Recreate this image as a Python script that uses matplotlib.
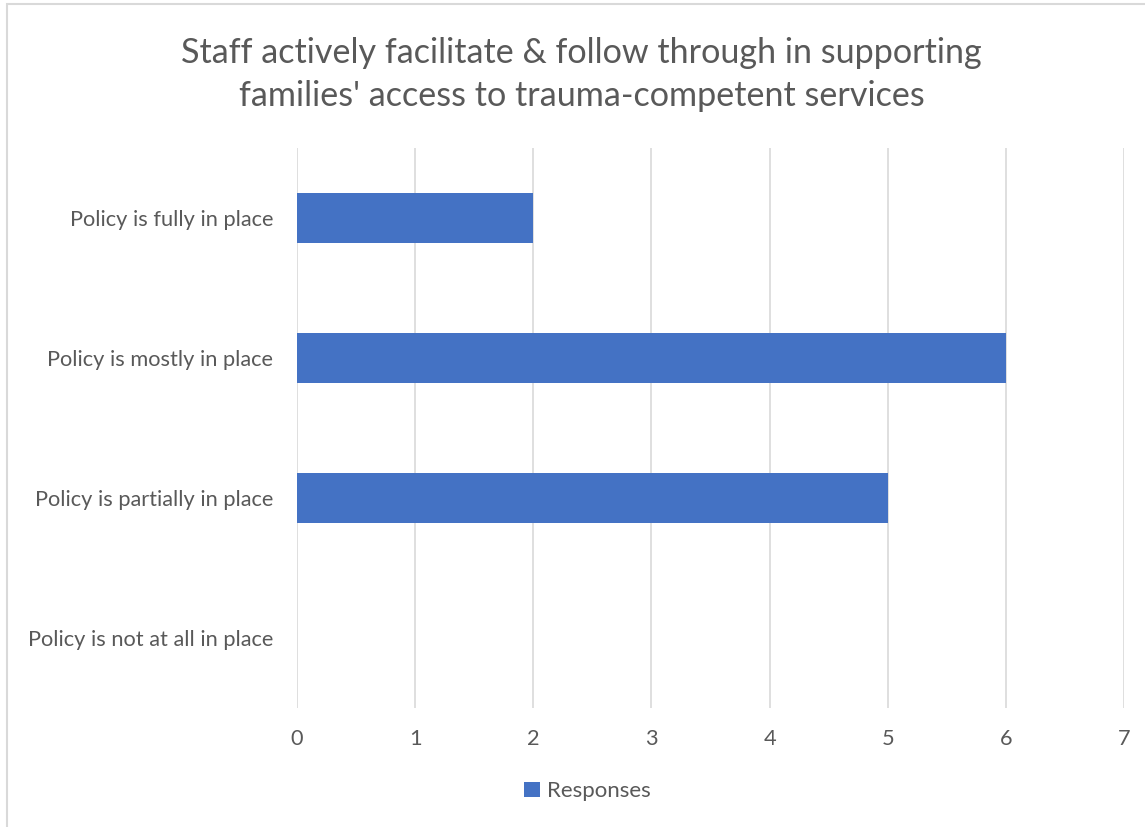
import matplotlib.pyplot as plt
from matplotlib.patches import Rectangle

# survey responses per policy level
categories = ["Policy is not at all in place",
              "Policy is partially in place",
              "Policy is mostly in place",
              "Policy is fully in place"]
responses = [0, 5, 6, 2]
x_ticks = [0, 1, 2, 3, 4, 5, 6, 7]

TITLE = "Staff actively facilitate & follow through in supporting\nfamilies' access to trauma-competent services"
BAR_COLOR = "#4472C4"
TEXT_COLOR = "#595959"
GRID_COLOR = "#D9D9D9"

plt.rcParams['font.family'] = ['Lato', 'DejaVu Sans']

fig = plt.figure(figsize=(11.45, 8.27), dpi=100)
# chart frame, only the top and left edges fall inside the image
top = (827 - 4) / 827
fig.patches.append(Rectangle((7 / 1145, -0.2), 1.2, top + 0.2, transform=fig.transFigure,
                             fill=False, edgecolor=GRID_COLOR, linewidth=1.5))

ax = fig.add_axes([0.2594, 0.1439, 0.7223, 0.677])
ax.barh(range(len(categories)), responses, height=0.36, color=BAR_COLOR, zorder=3,
        label="Responses")

ax.set_xlim(0, 7)
ax.set_ylim(-0.5, len(categories) - 0.5)
ax.set_xticks(x_ticks)
ax.set_yticks(range(len(categories)))
ax.set_yticklabels(categories)
ax.grid(axis='x', color=GRID_COLOR, linewidth=1.2, zorder=0)
for s in ax.spines.values():
    s.set_visible(False)
ax.tick_params(axis='both', length=0, labelsize=15.7, labelcolor=TEXT_COLOR)
ax.tick_params(axis='x', pad=15)
ax.tick_params(axis='y', pad=17)

fig.text(0.508, 0.91, TITLE, ha='center', va='center', fontsize=24.6, color=TEXT_COLOR,
         linespacing=1.45)

fig.legend(loc='center', bbox_to_anchor=(0.513, 0.043), frameon=False, fontsize=16,
           labelcolor=TEXT_COLOR, handlelength=0.7, handleheight=0.7, handletextpad=0.3)

fig.savefig("out.png", dpi=100)
